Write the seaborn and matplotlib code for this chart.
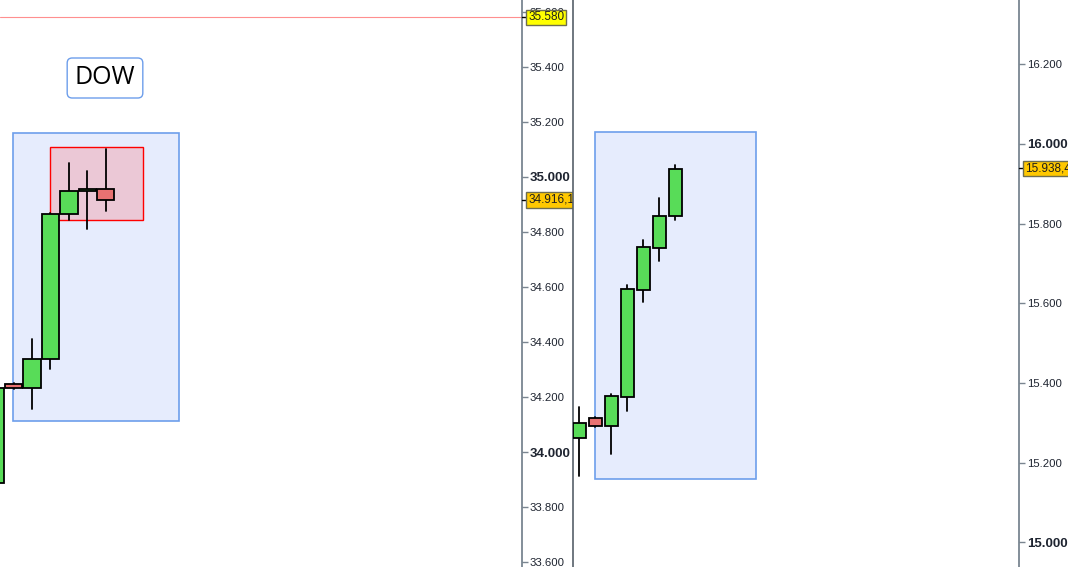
import numpy as np
import pandas as pd
import matplotlib
matplotlib.use('Agg')
import matplotlib.pyplot as plt
import matplotlib.transforms as mtransforms
from matplotlib.patches import Rectangle
import seaborn as sns

# DOW candles (index 0 is cut by the left edge)
dow_open = [33887, 34247, 34233, 34338, 34865, 34947, 34955]
dow_close = [34233, 34233, 34338, 34865, 34949, 34955, 34916]
dow_high = [34240, 34250, 34411, 34870, 35051, 35022, 35102]
dow_low = [33870, 34230, 34156, 34302, 34844, 34811, 34876]
dow_ticks = [33600, 33800, 34000, 34200, 34400, 34600, 34800, 35000, 35200, 35400, 35600]

# second index candles
ndx_open = [15261, 15312, 15292, 15364, 15634, 15740, 15818]
ndx_close = [15299, 15292, 15367, 15635, 15741, 15819, 15938]
ndx_high = [15340, 15315, 15373, 15646, 15759, 15864, 15947]
ndx_low = [15168, 15290, 15223, 15331, 15604, 15707, 15810]
ndx_ticks = [15000, 15200, 15400, 15600, 15800, 16000, 16200]

dow_level = 35580
dow_last = '34.916,1'
ndx_last = '15.938,4'

sns.set_theme(style='white')
plt.rcParams['font.family'] = ['Liberation Sans', 'DejaVu Sans']

GREEN = '#58dc58'
RED = '#e87272'


def fmt(v):
    return f'{v:,}'.replace(',', '.')


def candles(ax, o, c, h, l, width):
    idx = np.arange(len(o))
    wick = pd.DataFrame({
        'candle': np.repeat(idx, 2),
        'x': np.repeat(idx, 2).astype(float),
        'price': np.ravel(np.column_stack([l, h])),
    })
    sns.lineplot(data=wick, x='x', y='price', units='candle', estimator=None,
                 sort=False, color='black', lw=1.3, ax=ax, legend=False, zorder=3)
    o = np.array(o); c = np.array(c)
    cols = [GREEN if cc >= oo else RED for oo, cc in zip(o, c)]
    ax.bar(idx, np.abs(c - o), bottom=np.minimum(o, c), width=width,
           color=cols, edgecolor='black', linewidth=1.3, zorder=4)


def style_axis(ax, ticks, bold, left_spine):
    ax.yaxis.tick_right()
    ax.set_yticks(ticks)
    ax.set_yticklabels([fmt(t) for t in ticks])
    ax.set_xticks([])
    ax.set_xlabel('')
    ax.set_ylabel('')
    ax.tick_params(axis='y', right=True, length=4, width=1, color='#7a8590',
                   pad=1.5, labelsize=8.2, labelcolor='#1e2430')
    for lab, t in zip(ax.get_yticklabels(), ticks):
        if t in bold:
            lab.set_fontweight('bold')
            lab.set_fontsize(9.5)
    for s in ['top', 'bottom']:
        ax.spines[s].set_visible(False)
    ax.spines['right'].set_color('#6e7c88')
    ax.spines['right'].set_linewidth(1.2)
    ax.spines['left'].set_visible(left_spine)
    ax.spines['left'].set_color('#56606a')
    ax.spines['left'].set_linewidth(1.2)


def price_tag(ax, y, text, face, frac):
    tr = mtransforms.blended_transform_factory(ax.transAxes, ax.transData)
    ax.plot([1.0, 1.0 + frac], [y, y], color='black', lw=1, transform=tr,
            clip_on=False, zorder=5)
    ax.text(1.0 + frac + 0.002, y, text, transform=tr, ha='left', va='center',
            fontsize=8.5, color='#1e1e1e', zorder=6, clip_on=False,
            bbox=dict(boxstyle='square,pad=0.15', fc=face, ec='#6e6e50', lw=1))


fig = plt.figure(figsize=(10.68, 5.67), dpi=100)
fig.patch.set_facecolor('white')

# left panel: DOW
ax1 = fig.add_axes([0, 0, 522 / 1068, 1])
ax1.add_patch(Rectangle((0.973, 34113), 9.95 - 0.973, 35160 - 34113,
                        fc='#e6ecfd', ec='#6d9eeb', lw=1.2, zorder=1))
ax1.add_patch(Rectangle((2.97, 34844), 8.0 - 2.97, 35109 - 34844,
                        fc='#ebc8d6', ec='#ff0000', lw=1, zorder=2))
candles(ax1, dow_open, dow_close, dow_high, dow_low, 0.92)
ax1.axhline(dow_level, color='#ff8f8f', lw=0.8, zorder=2)
ax1.set_xlim(0.27, 28.49)
ax1.set_ylim(33582, 35643)
style_axis(ax1, dow_ticks, [34000, 35000], False)
fig.text(105 / 1068, 1 - 78 / 567, 'DOW', fontsize=18, ha='center', va='center',
         family=['Open Sans', 'DejaVu Sans'], color='black',
         bbox=dict(boxstyle='round,pad=0.3,rounding_size=0.2', fc='white',
                   ec='#6d9eeb', lw=1))
price_tag(ax1, dow_level, '35.580', '#ffff00', 0.0096)
price_tag(ax1, 34916.1, dow_last, '#ffc800', 0.0096)

# right panel
ax2 = fig.add_axes([573 / 1068, 0, 446 / 1068, 1])
ax2.add_patch(Rectangle((0.99, 15159), 11.01 - 0.99, 16029 - 15159,
                        fc='#e6ecfd', ec='#6d9eeb', lw=1.2, zorder=1))
candles(ax2, ndx_open, ndx_close, ndx_high, ndx_low, 0.775)
ax2.set_xlim(-0.406, 27.47)
ax2.set_ylim(14938.5, 16361)
style_axis(ax2, ndx_ticks, [15000, 16000], True)
price_tag(ax2, 15938.4, ndx_last, '#ffc800', 0.0112)

fig.savefig('out.png', dpi=100)
